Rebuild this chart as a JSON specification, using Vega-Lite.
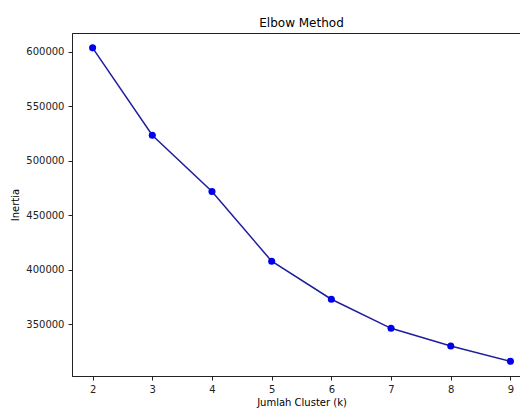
{
  "$schema": "https://vega.github.io/schema/vega-lite/v6.json",
  "width": 448,
  "height": 343,
  "autosize": {"type": "none"},
  "padding": {"left": 72, "top": 33, "right": 0, "bottom": 32},
  "background": "white",
  "title": {"text": "Elbow Method", "font": "DejaVu Sans", "fontSize": 12, "fontWeight": "normal", "color": "#000000", "offset": 3.5, "anchor": "middle", "frame": "group", "dx": 5.5},
  "config": {
    "view": {"stroke": "#222222", "strokeWidth": 1},
    "axis": {
      "grid": false,
      "domainColor": "#222222",
      "tickColor": "#222222",
      "tickSize": 4,
      "labelFont": "DejaVu Sans",
      "labelFontSize": 10,
      "labelColor": "#222222",
      "titleFont": "DejaVu Sans",
      "titleFontSize": 10,
      "titleFontWeight": "normal",
      "titleColor": "#000000"
    }
  },
  "data": {
    "values": [
      {"k": 2, "inertia": 603800},
      {"k": 3, "inertia": 523600},
      {"k": 4, "inertia": 471900},
      {"k": 5, "inertia": 407900},
      {"k": 6, "inertia": 373000},
      {"k": 7, "inertia": 346300},
      {"k": 8, "inertia": 330100},
      {"k": 9, "inertia": 316000}
    ]
  },
  "encoding": {
    "x": {
      "field": "k", "type": "quantitative",
      "scale": {"domain": [1.655, 9.16], "nice": false, "zero": false},
      "axis": {"values": [2, 3, 4, 5, 6, 7, 8, 9], "title": "Jumlah Cluster (k)", "labelPadding": 4, "titlePadding": 3, "labelFlush": false, "titleX": 229.5}
    },
    "y": {
      "field": "inertia", "type": "quantitative",
      "scale": {"domain": [302540, 617440], "nice": false, "zero": false},
      "axis": {"values": [350000, 400000, 450000, 500000, 550000, 600000], "format": "d", "title": "Inertia", "labelPadding": 4, "titlePadding": 5, "labelFlush": false}
    }
  },
  "layer": [
    {"mark": {"type": "line", "color": "#1e1e9c", "strokeWidth": 1.5}},
    {"mark": {"type": "point", "filled": true, "color": "#0000ee", "opacity": 1, "size": 50}}
  ]
}
